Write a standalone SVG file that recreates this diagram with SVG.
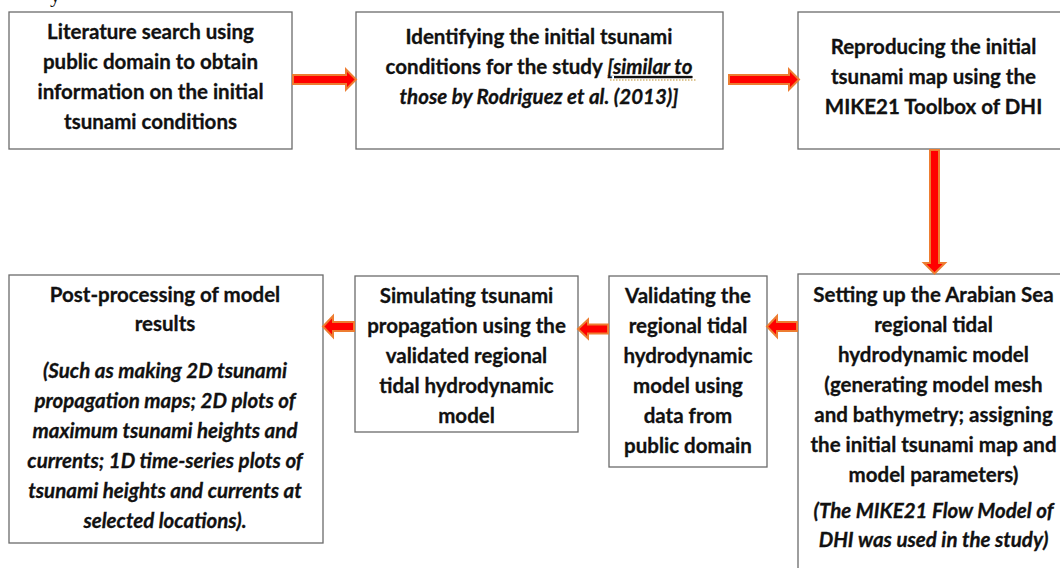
<svg xmlns="http://www.w3.org/2000/svg" width="1060" height="568" viewBox="0 0 1060 568">
<style>
.box{fill:#fff;stroke:#6b6b6b;stroke-width:1.3}
.t{font-family:Lato,"Liberation Sans",sans-serif;font-weight:bold;font-size:20.5px;fill:#111;stroke:#111;stroke-width:0.3;text-anchor:middle}
.i{font-style:italic}
.arr{fill:#ff0000;stroke:#ed7d31;stroke-width:2;stroke-linejoin:miter}
</style>
<rect width="1060" height="568" fill="#fff"/>
<text x="50" y="2" font-family="Liberation Serif,serif" font-size="21" fill="#111">y</text>
<g id="n1">
<rect class="box" x="9" y="12" width="283" height="137"/>
<text class="t" x="150.5" y="39">Literature search using</text>
<text class="t" x="150.5" y="69">public domain to obtain</text>
<text class="t" x="150.5" y="99">information on the initial</text>
<text class="t" x="150.5" y="129">tsunami conditions</text>
</g>
<g id="n2">
<rect class="box" x="356" y="12" width="367" height="137"/>
<text class="t" x="539" y="44">Identifying the initial tsunami</text>
<text class="t" x="539" y="74">conditions for the study <tspan class="i" text-decoration="underline">[similar to</tspan></text>
<text class="t i" x="539" y="104">those by Rodriguez et al. (2013)]</text>
<line x1="610" y1="80" x2="697" y2="80" stroke="#c0902a" stroke-width="1.2" stroke-dasharray="1.5,1.5"/>
</g>
<g id="n3">
<rect class="box" x="798" y="12" width="271" height="137"/>
<text class="t" x="933.5" y="54">Reproducing the initial</text>
<text class="t" x="933.5" y="84">tsunami map using the</text>
<text class="t" x="933.5" y="114">MIKE21 Toolbox of DHI</text>
</g>
<g id="n4">
<rect class="box" x="798" y="274" width="271" height="310"/>
<text class="t" x="933.5" y="302">Setting up the Arabian Sea</text>
<text class="t" x="933.5" y="332">regional tidal</text>
<text class="t" x="933.5" y="362">hydrodynamic model</text>
<text class="t" x="933.5" y="392">(generating model mesh</text>
<text class="t" x="933.5" y="422">and bathymetry; assigning</text>
<text class="t" x="933.5" y="452">the initial tsunami map and</text>
<text class="t" x="933.5" y="482">model parameters)</text>
<text class="t i" x="933.5" y="518">(The MIKE21 Flow Model of</text>
<text class="t i" x="933.5" y="547">DHI was used in the study)</text>
</g>
<g id="n5">
<rect class="box" x="609" y="276" width="158" height="191"/>
<text class="t" x="688" y="303">Validating the</text>
<text class="t" x="688" y="333">regional tidal</text>
<text class="t" x="688" y="363">hydrodynamic</text>
<text class="t" x="688" y="393">model using</text>
<text class="t" x="688" y="423">data from</text>
<text class="t" x="688" y="453">public domain</text>
</g>
<g id="n6">
<rect class="box" x="355" y="276" width="223" height="156"/>
<text class="t" x="466.5" y="303">Simulating tsunami</text>
<text class="t" x="466.5" y="333">propagation using the</text>
<text class="t" x="466.5" y="363">validated regional</text>
<text class="t" x="466.5" y="393">tidal hydrodynamic</text>
<text class="t" x="466.5" y="423">model</text>
</g>
<g id="n7">
<rect class="box" x="9" y="275" width="314" height="268"/>
<text class="t" x="165" y="302">Post-processing of model</text>
<text class="t" x="165" y="331">results</text>
<text class="t i" x="165" y="378">(Such as making 2D tsunami</text>
<text class="t i" x="165" y="408">propagation maps; 2D plots of</text>
<text class="t i" x="165" y="438">maximum tsunami heights and</text>
<text class="t i" x="165" y="468">currents; 1D time-series plots of</text>
<text class="t i" x="165" y="498">tsunami heights and currents at</text>
<text class="t i" x="165" y="528">selected locations).</text>
</g>
<g id="connectors">
<polygon class="arr" points="293,75 346,75 346,69.5 356,79.5 346,89.5 346,84 293,84"/>
<polygon class="arr" points="729,75 789,75 789,69.5 799,79.5 789,89.5 789,84 729,84"/>
<polygon class="arr" points="930,150 939,150 939,263 945,263 934.5,273.5 924,263 930,263"/>
<polygon class="arr" points="797,322 777,322 777,316 767,326.5 777,337 777,331 797,331"/>
<polygon class="arr" points="608,324.5 588,324.5 588,319.5 578,329 588,338.5 588,333.5 608,333.5"/>
<polygon class="arr" points="354,322 333,322 333,316 323,326.5 333,337 333,331 354,331"/>
</g>
</svg>
